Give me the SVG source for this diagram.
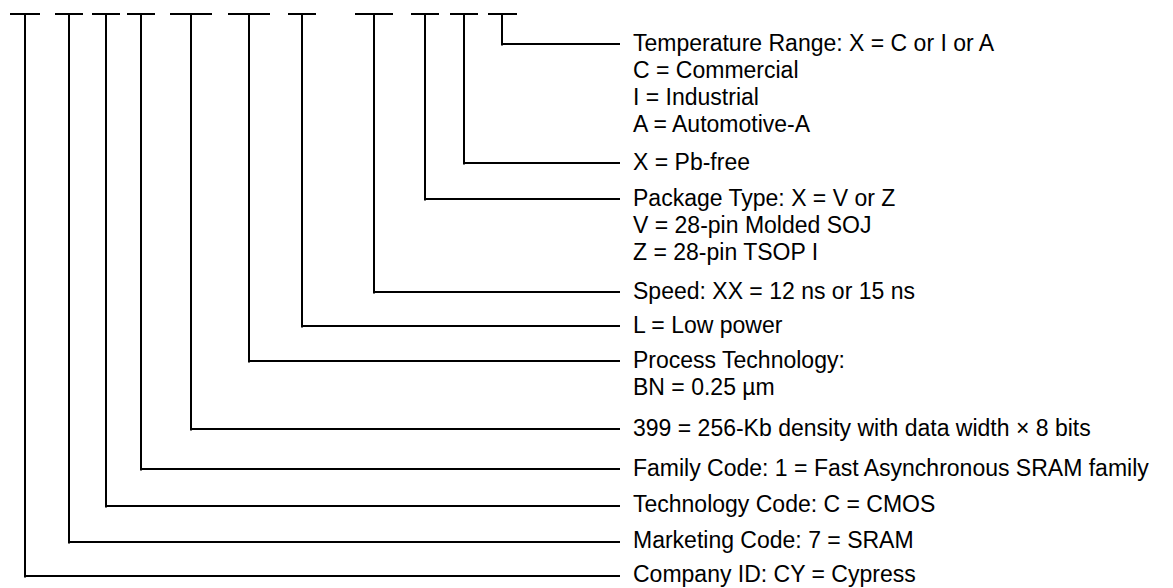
<svg xmlns="http://www.w3.org/2000/svg" width="1173" height="588" viewBox="0 0 1173 588">
<style>
.ln{stroke:#000;stroke-width:2;fill:none}
.t{font-family:"Liberation Sans",Arial,sans-serif;font-size:23px;fill:#000}
</style>
<rect width="1173" height="588" fill="#fff"/>
<g id="connectors">
<path class="ln" d="M10 14H40M25 14V577.5M25 576H620"/>
<path class="ln" d="M55 14H83M69 14V543.5M69 542H620"/>
<path class="ln" d="M92 14H120M106 14V507.5M106 506H620"/>
<path class="ln" d="M127 14H155M141 14V470.5M141 469H620"/>
<path class="ln" d="M170 14H212M191 14V430.5M191 429H620"/>
<path class="ln" d="M228 14H270M249 14V362.5M249 361H620"/>
<path class="ln" d="M288 14H316M302 14V327.5M302 326H620"/>
<path class="ln" d="M355 14H393M374 14V293.5M374 292H620"/>
<path class="ln" d="M411 14H439M425 14V200.5M425 199H620"/>
<path class="ln" d="M450 14H478M464 14V164.5M464 163H620"/>
<path class="ln" d="M488 14H517M502 14V45.5M502 44H620"/>
</g>
<g id="temp"><text class="t" x="633" y="51">Temperature Range: X = C or I or A</text><text class="t" x="633" y="78">C = Commercial</text><text class="t" x="633" y="105">I = Industrial</text><text class="t" x="633" y="132">A = Automotive-A</text></g>
<g id="pbfree"><text class="t" x="633" y="170">X = Pb-free</text></g>
<g id="package"><text class="t" x="633" y="206">Package Type: X = V or Z</text><text class="t" x="633" y="233">V = 28-pin Molded SOJ</text><text class="t" x="633" y="260">Z = 28-pin TSOP I</text></g>
<g id="speed"><text class="t" x="633" y="299">Speed: XX = 12 ns or 15 ns</text></g>
<g id="power"><text class="t" x="633" y="333">L = Low power</text></g>
<g id="process"><text class="t" x="633" y="368">Process Technology:</text><text class="t" x="633" y="395">BN = 0.25 µm</text></g>
<g id="density"><text class="t" x="633" y="436">399 = 256-Kb density with data width × 8 bits</text></g>
<g id="family"><text class="t" x="633" y="476">Family Code: 1 = Fast Asynchronous SRAM family</text></g>
<g id="tech"><text class="t" x="633" y="512">Technology Code: C = CMOS</text></g>
<g id="marketing"><text class="t" x="633" y="548">Marketing Code: 7 = SRAM</text></g>
<g id="company"><text class="t" x="633" y="582">Company ID: CY = Cypress</text></g>
</svg>
